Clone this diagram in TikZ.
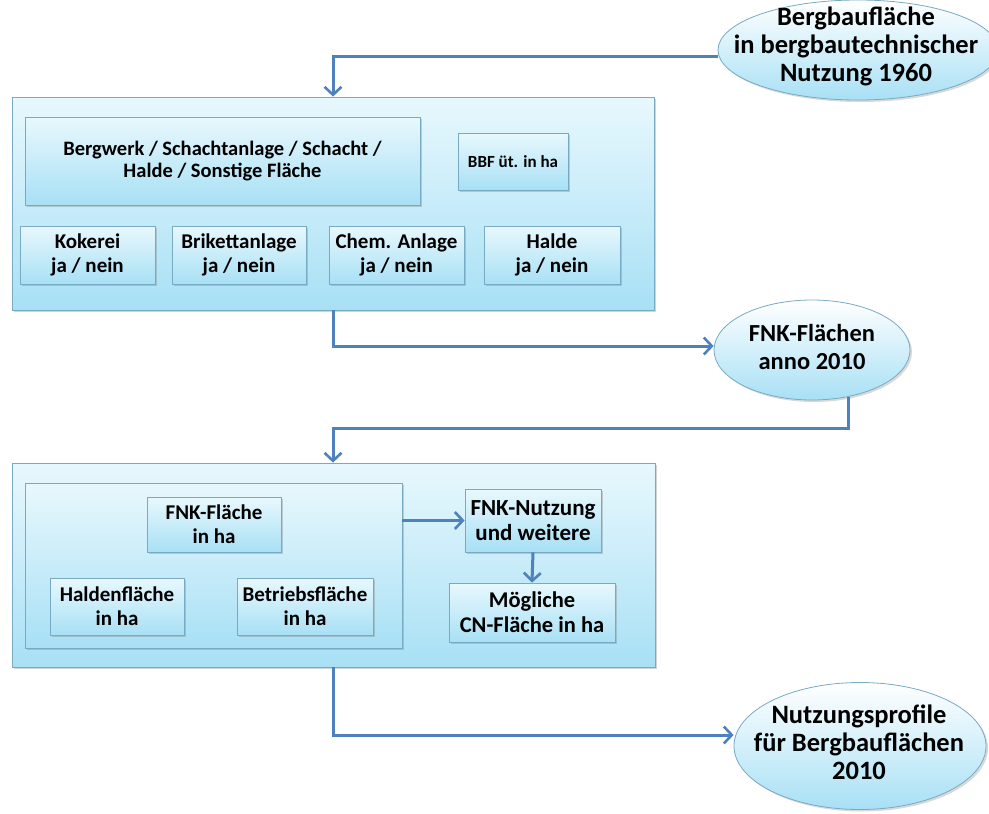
\documentclass[tikz,border=0pt]{standalone}
\usepackage{fontspec}
\setmainfont{Carlito}
\usetikzlibrary{shapes.geometric,arrows.meta,shadows}

\definecolor{flowblue}{RGB}{79,129,189}
\definecolor{boxedge}{RGB}{120,170,195}
\definecolor{boxlight}{RGB}{232,248,253}
\definecolor{boxdark}{RGB}{168,224,245}

\tikzset{
  panel/.style={draw=boxedge,line width=0.8pt,top color=boxlight,bottom color=boxdark,
    drop shadow={shadow xshift=2pt,shadow yshift=-2pt,opacity=0.35},inner sep=0pt},
  field/.style={panel,align=center,font=\bfseries\fontsize{21}{24}\selectfont},
  goal/.style={ellipse,draw=boxedge,line width=0.8pt,top color=white,bottom color=boxdark,
    drop shadow={shadow xshift=2pt,shadow yshift=-2pt,opacity=0.3},inner sep=0pt},
  goaltext/.style={align=center,inner sep=0pt,font=\bfseries\fontsize{26.5}{28}\selectfont},
  flow/.style={draw=flowblue,line width=3pt,-{Straight Barb[length=8pt,width=17pt,line width=2.6pt]}}
}

\begin{document}
\begin{tikzpicture}[x=1pt,y=-1pt]
	\useasboundingbox (0,0) rectangle (989,814);
	% oberer Block
	\node[panel,minimum width=642pt,minimum height=213pt] (top) at (333,203.5) {};
	\node[field,font=\bfseries\fontsize{20.5}{22}\selectfont,minimum width=395pt,minimum height=88pt] (art) at (222.5,161) {Bergwerk / Schachtanlage / Schacht /\\Halde / Sonstige Fläche};
	\node[field,font=\bfseries\fontsize{17}{20}\selectfont,minimum width=110pt,minimum height=57pt] (bbf) at (513,161.5) {BBF üt. in ha};
	\node[field,minimum width=135pt,minimum height=58pt] (kok) at (87.5,255) {Kokerei\\ja / nein};
	\node[field,minimum width=134pt,minimum height=58pt] (bri) at (239,255) {Brikettanlage\\ja / nein};
	\node[field,minimum width=135pt,minimum height=58pt] (chem) at (396.5,255) {Chem. Anlage\\ja / nein};
	\node[field,minimum width=136pt,minimum height=58pt] (hal) at (552,255) {Halde\\ja / nein};
	% unterer Block
	\node[panel,minimum width=643pt,minimum height=204pt] (bottom) at (333.5,565) {};
	\node[panel,minimum width=377pt,minimum height=165pt] (grp) at (213.5,565.5) {};
	\node[field,minimum width=134pt,minimum height=55pt] (fnk) at (214,524.5) {FNK-Fläche\\in ha};
	\node[field,minimum width=134pt,minimum height=57pt] (hfl) at (117,606.5) {Haldenfläche\\in ha};
	\node[field,minimum width=136pt,minimum height=57pt] (bfl) at (305,606.5) {Betriebsfläche\\in ha};
	\node[field,font=\bfseries\fontsize{23}{25}\selectfont,minimum width=136pt,minimum height=63pt] (nutz) at (533,520.5) {FNK-Nutzung\\und weitere};
	\node[field,font=\bfseries\fontsize{22.5}{25}\selectfont,minimum width=166pt,minimum height=59pt] (cn) at (532,612.5) {Mögliche\\CN-Fläche in ha};
	% Ellipsen
	\node[goal,minimum width=280pt,minimum height=100pt] (e1) at (858,50) {};
	\node[goaltext] (e1t) at (856,46) {Bergbaufläche\\in bergbautechnischer\\Nutzung 1960};
	\node[goal,minimum width=196pt,minimum height=100pt] (e2) at (812,350) {};
	\node[goaltext,font=\bfseries\fontsize{24.5}{28}\selectfont] (e2t) at (812,347) {FNK-Flächen\\anno 2010};
	\node[goal,minimum width=252pt,minimum height=127pt] (e3) at (860,746) {};
	\node[goaltext] (e3t) at (859,742) {Nutzungsprofile\\für Bergbauflächen\\2010};
	\coordinate (k1) at (333,56);
	\coordinate (k2) at (333,346);
	\coordinate (k4) at (333,428);
	\coordinate (k5) at (333,735);
	% Verbinder
	\draw[flow] (e1.west |- k1) -- (k1) -- (k1 |- top.north);
	\draw[flow] (k1 |- top.south) -- (k2) -- (e2.west |- k2);
	\draw[flow] (e2.-52) |- (k4) -- (k4 |- bottom.north);
	\draw[flow] (grp.east |- nutz) -- (nutz.west);
	\draw[flow] (nutz.south) -- (cn.north);
	\draw[flow] (k4 |- bottom.south) -- (k5) -- (e3.west |- k5);
\end{tikzpicture}
\end{document}
